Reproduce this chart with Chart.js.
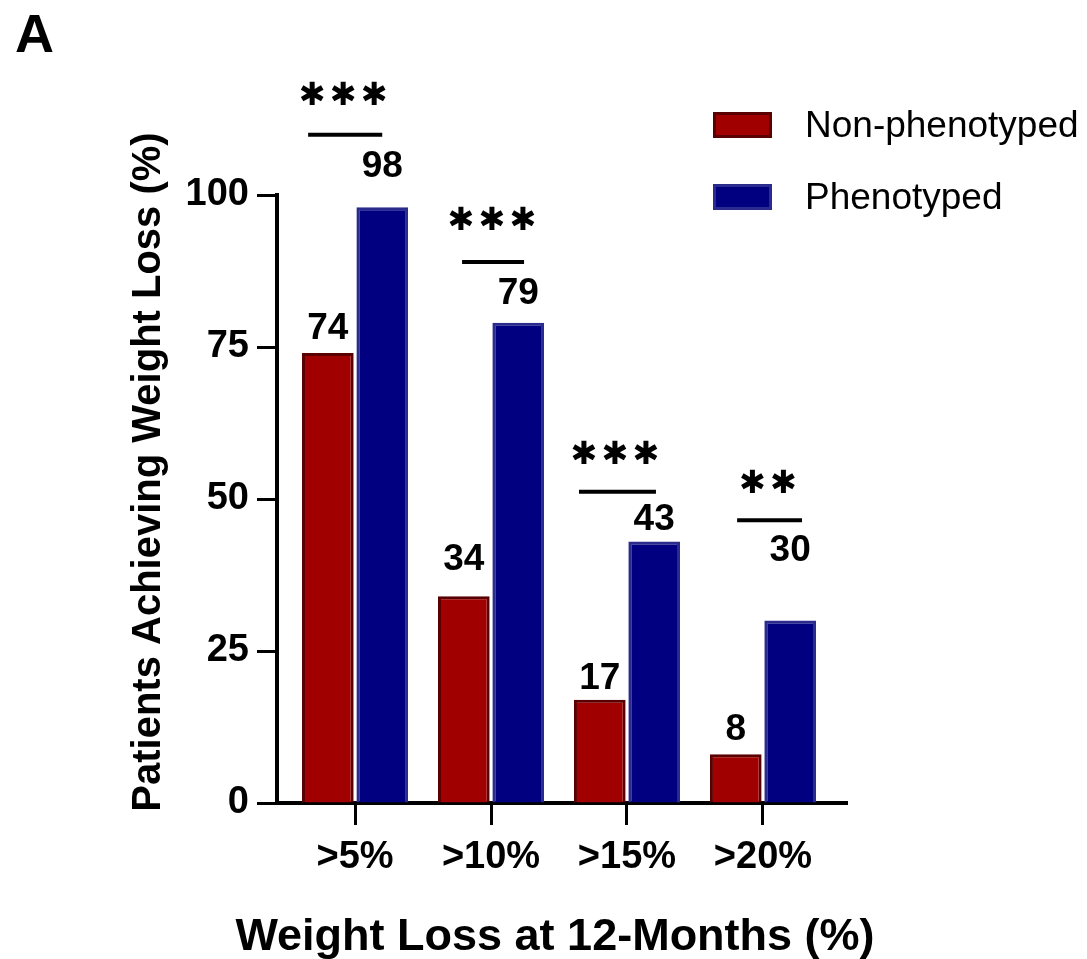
<!DOCTYPE html>
<html>
<head>
<meta charset="utf-8">
<script src="https://cdn.jsdelivr.net/npm/chart.js@4.4.1/dist/chart.umd.min.js"></script>
<style>
  html, body { margin: 0; padding: 0; background: #ffffff; }
  #wrap { width: 1087px; height: 959px; }
</style>
</head>
<body>
<div id="wrap"><canvas id="c" width="1087" height="959"></canvas></div>
<script>
// ---- data ----
const categories = ['>5%', '>10%', '>15%', '>20%'];
const nonPhenotyped = [74, 34, 17, 8];
const phenotyped = [98, 79, 43, 30];
const yTickValues = [0, 25, 50, 75, 100];
const significance = ['***', '***', '***', '**'];
const seriesNames = ['Non-phenotyped', 'Phenotyped'];

const panelLetter = 'A';
const xTitle = 'Weight Loss at 12-Months (%)';
const yTitle = 'Patients Achieving Weight Loss (%)';

// ---- layout (annotation placement, in scale units / px offsets) ----
const valueLabelLift = [[24, 36, 21, 25], [40, 29, 22, 70]]; // px above bar top
const sigLineY = [109.9, 89.0, 51.2, 46.5];   // value units
const sigStarY = [116.1, 95.6, 57.2, 52.3];   // value units
const sigLineFrom = [-0.345, -0.213, -0.353, -0.19]; // category units from center
const sigLineTo = [0.2, 0.243, 0.213, 0.287];
const sigStarCenter = [-0.088, 0.007, -0.088, 0.037];

const FONT = '"Liberation Sans", Arial, Helvetica, sans-serif';
const colors = {
  red: '#a00000', redBorder: '#5a0000',
  blue: '#000080', blueBorder: '#2b2b8e'
};

const annotations = {
  id: 'annotations',
  afterDraw(chart) {
    const ctx = chart.ctx;
    const xs = chart.scales.x, ys = chart.scales.y;
    ctx.save();
    ctx.fillStyle = '#000';
    ctx.strokeStyle = '#000';

    // panel letter
    ctx.font = 'bold 54px ' + FONT;
    ctx.textAlign = 'left';
    ctx.textBaseline = 'alphabetic';
    ctx.fillText(panelLetter, 15, 52);

    // x title
    ctx.font = 'bold 45px ' + FONT;
    ctx.textAlign = 'center';
    ctx.fillText(xTitle, 555, 950);

    // y title
    ctx.save();
    ctx.translate(160, 472);
    ctx.rotate(-Math.PI / 2);
    ctx.font = 'bold 40px ' + FONT;
    ctx.textAlign = 'center';
    ctx.textBaseline = 'alphabetic';
    ctx.fillText(yTitle, 0, 0);
    ctx.restore();

    // value labels
    ctx.font = 'bold 37px ' + FONT;
    ctx.textAlign = 'center';
    ctx.textBaseline = 'middle';
    chart.data.datasets.forEach((ds, d) => {
      const meta = chart.getDatasetMeta(d);
      meta.data.forEach((bar, i) => {
        const v = ds.data[i].y;
        ctx.fillText(String(v), bar.x, bar.y - valueLabelLift[d][i]);
      });
    });

    // significance
    categories.forEach((c, i) => {
      const x1 = xs.getPixelForValue(i + sigLineFrom[i]);
      const x2 = xs.getPixelForValue(i + sigLineTo[i]);
      const ly = ys.getPixelForValue(sigLineY[i]);
      ctx.lineWidth = 4;
      ctx.beginPath();
      ctx.moveTo(x1, ly);
      ctx.lineTo(x2, ly);
      ctx.stroke();
      const sc = xs.getPixelForValue(i + sigStarCenter[i]);
      const sy = ys.getPixelForValue(sigStarY[i]);
      const n = significance[i].length;
      ctx.font = 'bold 32px "DejaVu Sans", sans-serif';
      ctx.textAlign = 'center';
      ctx.textBaseline = 'middle';
      for (let k = 0; k < n; k++) {
        const sx = sc + (k - (n - 1) / 2) * 31;
        ctx.fillText('\u2731', sx, sy);
      }
    });

    // legend
    const legendRows = [125, 197];
    chart.data.datasets.forEach((ds, d) => {
      const cy = legendRows[d];
      ctx.fillStyle = ds.borderColor;
      ctx.fillRect(713, cy - 13, 59, 26);
      ctx.fillStyle = ds.backgroundColor;
      ctx.fillRect(716, cy - 10, 53, 20);
      ctx.fillStyle = '#000';
      ctx.font = '37px ' + FONT;
      ctx.textAlign = 'left';
      ctx.textBaseline = 'middle';
      ctx.fillText(ds.label, 805, cy + 2);
    });
    ctx.restore();
  }
};

const tickFont = { family: FONT, size: 38, weight: 'bold' };

new Chart(document.getElementById('c'), {
  type: 'bar',
  data: {
    datasets: [
      {
        label: seriesNames[0],
        data: nonPhenotyped.map((v, i) => ({ x: i, y: v })),
        backgroundColor: colors.red,
        borderColor: colors.redBorder,
        borderWidth: 3,
        categoryPercentage: 0.8,
        barPercentage: 0.95
      },
      {
        label: seriesNames[1],
        data: phenotyped.map((v, i) => ({ x: i, y: v })),
        backgroundColor: colors.blue,
        borderColor: colors.blueBorder,
        borderWidth: 3,
        categoryPercentage: 0.8,
        barPercentage: 0.95
      }
    ]
  },
  options: {
    responsive: false,
    animation: false,
    devicePixelRatio: 1,
    layout: { padding: { top: 195, right: 240, left: 0, bottom: 0 } },
    plugins: { legend: { display: false }, tooltip: { enabled: false } },
    scales: {
      x: {
        type: 'linear',
        min: -0.574,
        max: 3.618,
        offset: false,
        afterBuildTicks: s => { s.ticks = categories.map((c, i) => ({ value: i })); },
        afterFit: s => { s.height = 156; },
        ticks: {
          callback: v => categories[v],
          font: tickFont,
          color: '#000',
          padding: 10,
          maxRotation: 0,
          autoSkip: false
        },
        grid: { offset: false, drawOnChartArea: false, drawTicks: true, tickLength: 22, tickWidth: 3, tickColor: '#000' },
        border: { display: true, color: '#000', width: 4 }
      },
      y: {
        min: 0,
        max: 100,
        afterBuildTicks: s => { s.ticks = yTickValues.map(v => ({ value: v })); },
        afterFit: s => { s.width = 277; },
        ticks: { font: tickFont, color: '#000', padding: 8 },
        grid: { drawOnChartArea: false, drawTicks: true, tickLength: 20, tickWidth: 3, tickColor: '#000' },
        border: { display: true, color: '#000', width: 4 }
      }
    }
  },
  plugins: [annotations]
});
</script>
</body>
</html>
